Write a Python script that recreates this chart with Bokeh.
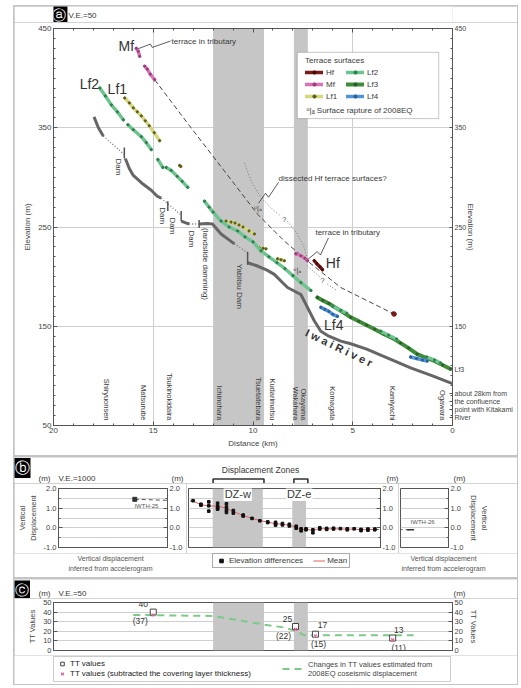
import numpy as np
from bokeh.plotting import figure
from bokeh.models import (Range1d, LinearAxis, FixedTicker, BoxAnnotation, Label, Legend,
                          LegendItem, PrintfTickFormatter)
from bokeh.layouts import column, row
from bokeh.core.properties import value
from bokeh.embed import file_html
from bokeh.resources import INLINE

FONT = "Liberation Sans"
INK = "#3a3a3a"
BAND = "#c6c6c6"
GRID = "#cfcfcf"

# ---------------- data: displacement zones (km) ----------------
dz_w = (12.0, 9.45)
dz_e = (7.95, 7.25)

# ---------------- data: panel a (distance km, elevation m) ----------------
river_xs = [[17.97, 17.75, 17.5],
            [16.4, 16.2, 16.0, 15.5, 15.1, 14.8, 14.6],
            [13.6, 13.4, 13.2],
            [12.7, 12.3, 12.03, 11.6, 11.27, 10.93],
            [10.27, 9.77, 9.3, 8.93, 8.6, 8.27, 7.6, 7.27, 6.93, 6.6, 6.2, 5.6, 5.1, 4.3, 3.6, 2.8, 2.1, 1.0, 0.0]]
river_ys = [[361, 350, 341.5],
            [319, 309, 302, 293, 287, 281, 279],
            [256, 254.5, 253],
            [253, 253.5, 253, 243, 238, 233],
            [214, 210.7, 206.5, 202.3, 195.6, 189, 182, 169, 155.5, 145, 140, 135, 132.4, 127, 121, 114, 108, 100, 92.2]]
river_dot_xs = [[17.5, 16.45], [14.6, 13.6], [13.2, 12.7], [10.93, 10.27]]
river_dot_ys = [[341.5, 323], [279, 262], [253, 253], [233, 224]]

dam_x = [16.45, 14.27, 13.6, 12.7, 10.27]
dam_top = [330, 276, 266, 257, 225]
dam_bot = [319, 266, 256, 249, 212]
dam_names = ["Dam", "Dam", "Dam", "Dam", "(landslide damming)", "Yabitsu Dam"]
dam_name_x = [16.75, 14.55, 14.05, 13.1, 12.38, 10.7]
dam_name_y = [319, 270, 259.5, 246.5, 249, 213]

mf_xs = [[15.85, 15.75, 15.68], [15.43, 15.3, 15.15, 14.93], [7.85, 7.6, 7.4, 7.27]]
mf_ys = [[430, 427, 422], [412, 409, 404, 398.4], [223, 221, 218.5, 216]]
hf_xs = [[6.93, 6.8, 6.65, 6.52], [2.98, 2.9]]
hf_ys = [[216, 213, 210, 207], [163, 162]]
lf1_xs = [[16.43, 16.2, 16.0, 15.8, 15.6, 15.4, 15.2, 14.95, 14.68], [13.68, 13.62],
          [11.35, 11.1, 10.9, 10.7, 10.5, 10.2, 9.93], [9.68, 9.5, 9.35], [8.77, 8.6, 8.43]]
lf1_ys = [[380, 375, 370, 366, 362, 357, 352, 345, 337], [312, 311],
          [256, 255, 254, 252, 250, 246, 243], [229, 228.5, 228], [218, 217, 216]]
lf2_xs = [[17.68, 17.4, 17.1, 16.8, 16.5], [16.27, 16.0, 15.6, 15.35, 15.1], [14.77, 14.52],
          [14.35, 14.1, 13.8, 13.55, 13.27],
          [12.43, 12.2, 12.0, 11.6, 11.2, 10.77, 10.4, 10.0, 9.6, 9.2, 8.8, 8.4, 8.0, 7.6, 7.1],
          [6.0, 5.6, 5.3], [3.6, 3.2, 2.8], [1.3, 0.9, 0.6]]
lf2_ys = [[390, 382, 373, 366, 358], [353, 348, 341, 335, 328], [318, 310],
          [310, 307, 301, 296, 290],
          [276, 270, 265, 256, 250, 246, 240, 235, 226, 220, 214, 208, 201, 194, 186],
          [170, 166, 163], [145, 141, 137], [119, 116, 113]]
lf3_xs = [[6.77, 6.5, 6.2, 5.8, 5.4, 5.1, 4.7, 4.3, 3.9, 3.43, 3.0, 2.6, 2.2, 1.77, 1.3, 0.9, 0.5, 0.1]]
lf3_ys = [[179, 176, 173, 168, 163, 159, 155, 151, 147, 142, 138, 133, 128, 122, 118, 115, 111, 107]]
lf4_xs = [[6.6, 6.4, 6.2, 6.0, 5.77], [2.1, 1.8, 1.5, 1.27]]
lf4_ys = [[169, 167, 165, 162, 160], [119, 117.5, 116, 115]]

mfhf_x = [14.93, 13.1, 11.43, 9.77, 8.43, 7.27, 5.6, 2.93]
mfhf_y = [398.4, 349.8, 306.3, 262.8, 235.9, 215.8, 189, 162.3]
dot_xs = [[10.43, 10.1, 9.6, 8.93, 8.6], [8.27, 7.77, 7.43, 7.27], [7.27, 6.6], [6.27, 5.77]]
dot_ys = [[314.6, 296.4, 279.5, 266.1, 261], [255.8, 242.6, 229.2, 217.5], [210.8, 199], [192.4, 185.7]]
q_x = [8.43, 6.52]
q_y = [257.8, 195.8]
lead_xs = [[15.8, 15.14, 15.05, 14.13], [9.72, 9.37, 9.22, 8.72], [7.28, 6.78, 6.62, 6.22]]
lead_ys = [[429.3, 434.3, 430.9, 437.4], [274, 284, 280, 295], [216.8, 225.2, 221.8, 238.9]]
rupture_x = [9.75, 7.78]
rupture_y = [268, 206]

places = ["Shiryuonsen", "Matsurube", "Tsukinokidaira", "Ichinohara", "Tsuetatebara",
          "Kudarimatsu", "Wakahara", "Okayama", "Komagata", "Kamiyachi", "Ogawara"]
place_km = [17.35, 15.47, 14.2, 11.7, 9.7, 9.0, 7.85, 7.45, 6.0, 3.0, 0.5]

# right-margin notes of panel a (elevation m -> text)
right_notes = {106: "Lf3", 82: "about 28km from", 74: "the confluence",
               66: "point with Kitakami", 58: "River"}

# ---------------- data: panel b (vertical displacement m) ----------------
ed_x = [13.0, 12.6, 12.6, 12.2, 12.2, 12.2, 11.75, 11.75, 11.75, 11.75, 11.3, 11.3, 11.3, 11.3,
        10.95, 10.95, 10.45, 10.45, 10.0, 9.6, 9.2, 9.2, 8.8, 8.8, 8.8, 8.45, 8.45, 8.1, 8.1,
        7.75, 7.75, 7.5, 7.5, 7.25, 7.25, 6.9, 6.9, 6.55, 6.55, 6.2, 6.2, 5.85, 5.85, 5.5,
        5.15, 5.15, 4.8, 4.45, 4.45, 4.1, 4.1, 3.75, 3.75]
ed_y = [1.38, 1.2, 1.15, 1.32, 1.12, 0.85, 1.25, 1.1, 1.0, 0.95, 1.22, 1.05, 0.9, 0.78,
        0.88, 0.75, 0.65, 0.6, 0.48, 0.36, 0.3, 0.27, 0.28, 0.2, 0.14, 0.22, 0.15, 0.18, 0.1,
        0.08, -0.02, -0.05, -0.15, -0.05, -0.1, -0.1, -0.25, 0.0, -0.06, -0.03, -0.08, -0.02, -0.06, -0.04,
        -0.05, -0.1, -0.05, -0.08, -0.14, -0.06, -0.12, -0.1, -0.06]
mean_x = [13.0, 12.6, 12.2, 11.75, 11.3, 10.95, 10.45, 10.0, 9.6, 9.2, 8.8, 8.45, 8.1, 7.75,
          7.5, 7.25, 6.9, 6.55, 6.2, 5.85, 5.5, 5.15, 4.8, 4.45, 4.1, 3.75]
mean_y = [1.36, 1.17, 1.12, 1.1, 1.0, 0.82, 0.63, 0.48, 0.37, 0.29, 0.21, 0.18, 0.13, 0.04,
          -0.08, -0.08, -0.12, -0.04, -0.05, -0.05, -0.05, -0.07, -0.06, -0.1, -0.09, -0.08]
iwth25 = (16.0, 1.45)
iwth26 = (2.1, -0.1)

# ---------------- data: panel c (TT values m) ----------------
tt_km = [15.0, 7.87, 6.87, 3.0]
tt_val = [40, 25, 17, 13]
tt_sub = [37, 22, 15, 11]
chg_km = [16.0, 12.0, 9.45, 8.45, 7.95, 7.45, 1.95]
chg_val = [37, 36, 27, 24, 21, 16, 16]

# ---------------- layout constants ----------------
W = 503
PX_KM = 399 / 20.0            # frame pixels per km
XL = 20 + 39 / PX_KM          # km at the canvas left edge
XR = 20 - (W - 39) / PX_KM    # km at the canvas right edge


def km(px):                   # page x pixel -> km (for text placement)
    return 20 - (px - 53) / PX_KM


# ---------------- helpers ----------------
def lab(p, x, y, text, size="8px", align="left", baseline="middle", angle=0.0,
        color=INK, style="normal", font=FONT, **kw):
    l = Label(x=x, y=y, text=text, text_font=font, text_font_size=size, text_align=align,
              text_baseline=baseline, angle=angle, text_color=color, text_font_style=style, **kw)
    p.add_layout(l)
    return l


def style_axis(ax, fs="8px"):
    ax.axis_line_color = "#555"
    ax.major_tick_line_color = "#555"
    ax.minor_tick_line_color = "#555"
    ax.major_tick_in = 4
    ax.major_tick_out = 0
    ax.minor_tick_in = 2
    ax.minor_tick_out = 0
    ax.major_label_text_font = FONT
    ax.major_label_text_font_size = fs
    ax.major_label_text_color = "#444"
    ax.major_label_standoff = 2
    ax.axis_label_text_font = FONT
    ax.axis_label_text_font_size = fs
    ax.axis_label_text_font_style = "normal"
    ax.axis_label_text_color = "#444"
    ax.axis_label_standoff = 3


def base_fig(**kw):
    return figure(output_backend="svg", toolbar_location=None, background_fill_color="white",
                  border_fill_color="white", outline_line_color="#555", **kw)


def strip(h):
    s = figure(width=W, height=h, x_range=Range1d(XL, XR), y_range=Range1d(0, h),
               min_border=0, x_axis_location=None, y_axis_location=None,
               outline_line_color=None, output_backend="svg", toolbar_location=None,
               background_fill_color="white", border_fill_color="white")
    s.grid.visible = False
    return s


def bands(p, top_e=None):
    p.add_layout(BoxAnnotation(left=dz_w[0], right=dz_w[1], fill_color=BAND, fill_alpha=1,
                               line_alpha=0, level="underlay"))
    p.add_layout(BoxAnnotation(left=dz_e[0], right=dz_e[1], top=top_e, fill_color=BAND,
                               fill_alpha=1, line_alpha=0, level="underlay"))


def flat(xss):
    return [v for s in xss for v in s]


def badge(p, x, y, ch, size):
    lab(p, x, y, ch, size=size, align="center", color="white", font="DejaVu Sans",
        background_fill_color="black", padding=1)


# ================= panel a =================
ha = strip(16)
badge(ha, km(21.5), 8, "ⓐ", "14px")
lab(ha, km(33), 7, "V.E.=50", size="8px")

pa = base_fig(width=W, height=433, x_range=Range1d(20, 0), y_range=Range1d(50, 450),
              min_border_left=39, min_border_right=65, min_border_top=6, min_border_bottom=30)
pa.xaxis.ticker = FixedTicker(ticks=[0, 5, 10, 15, 20], minor_ticks=list(range(0, 21)))
pa.xaxis.axis_label = "Distance (km)"
pa.yaxis.ticker = FixedTicker(ticks=[50, 150, 250, 350, 450], minor_ticks=list(range(50, 451, 10)))
pa.yaxis.axis_label = "Elevation (m)"
style_axis(pa.xaxis[0])
style_axis(pa.yaxis[0])
ra = LinearAxis(ticker=FixedTicker(ticks=[150, 250, 350, 450] + list(right_notes.keys()),
                                   minor_ticks=list(range(50, 451, 10))),
                axis_label="Elevation (m)", major_label_overrides=right_notes)
style_axis(ra, fs="7px")
ra.axis_label_text_font_size = "8px"
ra.major_tick_in = 3
ra.axis_label_standoff = -50
pa.add_layout(ra, "right")
ta = LinearAxis(ticker=FixedTicker(ticks=[0, 5, 10, 15, 20], minor_ticks=list(range(0, 21))),
                major_label_overrides={t: "" for t in [0, 5, 10, 15, 20]})
style_axis(ta)
pa.add_layout(ta, "above")
pa.xgrid.grid_line_color = GRID
pa.ygrid.grid_line_color = GRID
bands(pa)

# river
pa.multi_line(river_dot_xs, river_dot_ys, line_color="#777", line_width=1.3, line_dash="1 2")
pa.multi_line(river_xs, river_ys, line_color="#666", line_width=3, line_join="round")
pa.segment(x0=dam_x, y0=dam_bot, x1=dam_x, y1=dam_top, line_color="#555", line_width=1.5)
pa.text(x=dam_name_x, y=dam_name_y, text=dam_names, angle=-np.pi / 2, text_align="left",
        text_baseline="middle", text_font=value(FONT), text_font_size="8px", text_color=INK)

# guide lines
pa.line(mfhf_x, mfhf_y, line_color="#444", line_width=1, line_dash="5 3")
pa.multi_line(dot_xs, dot_ys, line_color="#777", line_width=1, line_dash="1 2")
pa.multi_line(lead_xs, lead_ys, line_color="#333", line_width=0.8)
pa.text(x=q_x, y=q_y, text=["?", "?"], text_align="center", text_baseline="middle",
        text_font=value(FONT), text_font_size="8px", text_color="#555")
pa.text(x=rupture_x, y=rupture_y, text=["ᵘ|ₐ", "ᵘ|ₐ"], text_align="center", text_baseline="middle",
        text_font=value("DejaVu Sans"), text_font_size="7px", text_color="#333")

# terraces
terr = [("Hf", hf_xs, hf_ys, "#7a1a1a", "#4a0a0a"),
        ("Mf", mf_xs, mf_ys, "#d873b5", "#9a3d7d"),
        ("Lf1", lf1_xs, lf1_ys, "#d4d77c", "#5a5a20"),
        ("Lf2", lf2_xs, lf2_ys, "#6cc48e", "#2f7d4c"),
        ("Lf3", lf3_xs, lf3_ys, "#3f8c3a", "#2a5e26"),
        ("Lf4", lf4_xs, lf4_ys, "#4f95d8", "#2d5f9a")]
rend = {}
for name, xs, ys, c, dc in terr:
    w = 4 if name == "Lf3" else 3.4
    r1 = pa.multi_line(xs, ys, line_color=c, line_width=w, line_cap="round", line_join="round")
    r2 = pa.scatter(flat(xs), flat(ys), size=2.2, color=dc, marker="circle")
    rend[name] = (r1, r2)
for r in rend["Lf2"]:
    pa.renderers.remove(r)
    pa.renderers.append(r)
pa.scatter([mfhf_x[-1]], [mfhf_y[-1]], size=4.5, color="#7a1a1a")

# place names
pa.text(x=place_km, y=[55] * len(place_km), text=places, angle=-np.pi / 2, text_align="right",
        text_baseline="middle", text_font=value(FONT), text_font_size="7.5px", text_color=INK)

# legend box
pa.add_layout(BoxAnnotation(left=7.78, right=0.69, top=426, bottom=359.2, fill_color="white",
                            fill_alpha=1, line_color="#444", line_width=1))
leg = Legend(items=[LegendItem(label=n, renderers=list(rend[n])) for n in ["Hf", "Mf", "Lf1", "Lf2", "Lf3", "Lf4"]],
             ncols=2, location=(250, 321), title="Terrace surfaces",
             title_text_font=FONT, title_text_font_size="8px", title_text_font_style="normal",
             title_text_color=INK, title_standoff=1,
             label_text_font=FONT, label_text_font_size="8px", label_text_color=INK,
             label_height=12, glyph_height=8, glyph_width=18, label_standoff=3, spacing=0,
             padding=2, margin=0, border_line_alpha=0, background_fill_alpha=0)
pa.add_layout(leg)
lab(pa, km(306), 367.8, "ᵘ|ₐ Surface rapture of 2008EQ", size="8px")

lab(pa, 16.35, 432, "Mf", size="14px", align="center", color="#333")
lab(pa, 14.08, 437.4, "terrace in tributary", size="8px")
lab(pa, 18.2, 394.5, "Lf2", size="14px", align="center", color="#333")
lab(pa, 16.8, 389, "Lf1", size="14px", align="center", color="#333")
lab(pa, 8.72, 299, "dissected Hf terrace surfaces?", size="8px")
lab(pa, 6.87, 244, "terrace in tributary", size="8px")
lab(pa, 6.0, 214, "Hf", size="14px", align="center", color="#333")
lab(pa, 5.95, 151, "Lf4", size="14px", align="center", color="#333")
lab(pa, 5.55, 127, "I w a i   R i v e r", size="11px", align="center", angle=-0.45,
    color="#333", style="bold")

# ================= panel b =================
hb = strip(26)
badge(hb, km(21.5), 15.5, "ⓑ", "15px")
lab(hb, km(44), 5, "(m)", align="center")
lab(hb, km(58), 5, "V.E.=1000")
lab(hb, km(177), 5, "(m)", align="center")
lab(hb, km(392), 5, "(m)", align="center")
lab(hb, km(459), 5, "(m)", align="center")
lab(hb, (dz_w[0] + dz_e[1]) / 2, 14, "Displacement Zones", size="8.5px", align="center")
hb.multi_line([[z[0], z[0], z[1], z[1]] for z in (dz_w, dz_e)], [[0, 4.5, 4.5, 0]] * 2,
              line_color="#333", line_width=1.6)

yt_b = FixedTicker(ticks=[-1, 0, 1, 2], minor_ticks=[-0.5, 0.5, 1.5])


def style_b(p):
    for ax in p.yaxis:
        ax.ticker = yt_b
        ax.formatter = PrintfTickFormatter(format="%.1f")
        style_axis(ax, fs="7.5px")
    p.ygrid.grid_line_color = GRID
    p.ygrid.minor_grid_line_color = GRID
    p.xgrid.visible = False


BH = dict(height=70, min_border_top=5, min_border_bottom=6, x_axis_location=None)
b1 = base_fig(width=172, x_range=Range1d(20, 20 - 114 / PX_KM), y_range=Range1d(-1, 2),
              y_axis_location="left", min_border_left=39, min_border_right=19, **BH)
b1.yaxis.axis_label = "Vertical\nDisplacement"
b1.add_layout(LinearAxis(), "right")
style_b(b1)

b2 = base_fig(width=212, x_range=Range1d(km(188), km(383)), y_range=Range1d(-1, 2),
              y_axis_location="right", min_border_left=2, min_border_right=15, **BH)
style_b(b2)
bands(b2, top_e=1.5)

b3 = base_fig(width=119, x_range=Range1d(km(400), km(448)), y_range=Range1d(-1, 2),
              y_axis_location="right", min_border_left=2, min_border_right=69, **BH)
b3.yaxis.axis_label = "Vertical\nDisplacement"
style_b(b3)

for p in (b1, b2):
    p.line([iwth25[0], mean_x[0]], [iwth25[1], mean_y[0]], line_color="#555", line_dash="4 3", line_width=1)
for p in (b2, b3):
    p.line([mean_x[-1], iwth26[0]], [mean_y[-1], iwth26[1]], line_color="#555", line_dash="4 3", line_width=1)
b1.scatter([iwth25[0]], [iwth25[1]], marker="square", size=4, color="#333")
b3.scatter([iwth26[0]], [iwth26[1]], marker="dash", size=7, line_width=1.5, color="#333")
lab(b1, 15.39, 1.12, "IWTH-25", size="6px", align="center", color="#555")
lab(b3, 1.5, 0.3, "IWTH-26", size="6px", align="center", color="#555")

rm = b2.line(mean_x, mean_y, line_color="#e06060", line_width=1)
rd = b2.scatter(ed_x, ed_y, marker="square", size=2.6, color="#111")
lab(b2, (dz_w[0] + dz_w[1]) / 2, 1.72, "DZ-w", size="11px", align="center",
    background_fill_color="white", padding=1)
lab(b2, (dz_e[0] + dz_e[1]) / 2, 1.72, "DZ-e", size="11px", align="center",
    background_fill_color="white", padding=1)

fb = strip(24)
for xc in (17.14, 0.45):
    lab(fb, xc, 19, "Vertical displacement", size="7px", align="center", color="#555")
    lab(fb, xc, 9, "inferred from accelerogram", size="7px", align="center", color="#555")
# legend keys (hidden copies of the panel's glyphs)
pd = fb.scatter(ed_x[:1], ed_y[:1], marker="square", size=2.6, color="#111", visible=False)
pm = fb.line(mean_x[:2], mean_y[:2], line_color="#e06060", line_width=1, visible=False)
legb = Legend(items=[LegendItem(label="Elevation differences", renderers=[pd]),
                     LegendItem(label="Mean", renderers=[pm])],
              orientation="horizontal", location=(198, 9),
              label_text_font=FONT, label_text_font_size="8px", label_text_color=INK,
              label_height=9, glyph_height=9, glyph_width=12, label_standoff=2, spacing=10,
              padding=2, margin=0, border_line_color="#555", background_fill_color="white")
fb.add_layout(legb)

# ================= panel c =================
hc = strip(19)
badge(hc, km(21.5), 9, "ⓒ", "14px")
lab(hc, km(44), 5, "(m)", align="center")
lab(hc, km(58), 5, "V.E.=50")
lab(hc, km(459), 5, "(m)", align="center")

pc = base_fig(width=W, height=57, x_range=Range1d(20, 0), y_range=Range1d(0, 50),
              x_axis_location=None, min_border_left=39, min_border_right=65,
              min_border_top=4, min_border_bottom=5)
pc.yaxis.ticker = FixedTicker(ticks=[0, 10, 20, 30, 40, 50])
pc.yaxis.axis_label = "TT Values"
style_axis(pc.yaxis[0], fs="7.5px")
rc = LinearAxis(ticker=FixedTicker(ticks=[0, 10, 20, 30, 40, 50]), axis_label="TT Values")
style_axis(rc, fs="7.5px")
pc.add_layout(rc, "right")
pc.ygrid.grid_line_color = GRID
pc.xgrid.visible = False
bands(pc)
pc.line(chg_km, chg_val, line_color="#7dc98a", line_width=2, line_dash="7 5")
pc.scatter(tt_km, tt_val, marker="square", size=6, fill_color="white", line_color="#444")
pc.scatter(tt_km, tt_sub, marker="x", size=4, line_color="#e0609a", line_width=1.2)
offs = [(-10, 8, -13, -6), (-8, 8, -12, -7), (7, 9, 3, -8), (6, 8, 6, -8)]
for k, v, s, (dx1, dy1, dx2, dy2) in zip(tt_km, tt_val, tt_sub, offs):
    lab(pc, k, v, str(v), size="8.5px", align="center", x_offset=dx1, y_offset=dy1, color="#333")
    lab(pc, k, s, "(%d)" % s, size="8.5px", align="center", x_offset=dx2, y_offset=dy2, color="#333")

fc = strip(29)
fc.add_layout(BoxAnnotation(left=20, right=0.1, bottom=3, top=28, fill_color="white",
                            fill_alpha=1, line_color="#555", line_width=1))
psq = fc.scatter(tt_km[:1], tt_val[:1], marker="square", size=6, fill_color="white",
                 line_color="#444", visible=False)
pxx = fc.scatter(tt_km[:1], tt_sub[:1], marker="x", size=4, line_color="#e0609a",
                 line_width=1.2, visible=False)
pch = fc.line(chg_km[:2], chg_val[:2], line_color="#7dc98a", line_width=2, line_dash="7 5",
              visible=False)
legc1 = Legend(items=[LegendItem(label="TT values", renderers=[psq]),
                      LegendItem(label="TT values (subtracted the covering layer thickness)", renderers=[pxx])],
               location=(41, 4), label_text_font=FONT, label_text_font_size="8px",
               label_text_color="#222", label_height=10, glyph_height=9, glyph_width=10,
               label_standoff=3, spacing=0, padding=2, margin=0,
               border_line_alpha=0, background_fill_alpha=0)
legc2 = Legend(items=[LegendItem(label="Changes in TT values estimated from\n2008EQ coseismic displacement",
                                 renderers=[pch])],
               location=(266, 4), label_text_font=FONT, label_text_font_size="7.5px",
               label_text_color="#444", label_height=19, glyph_height=9, glyph_width=20,
               label_standoff=6, padding=2, margin=0, border_line_alpha=0,
               background_fill_alpha=0)
fc.add_layout(legc1)
fc.add_layout(legc2)

layout = column(column(ha, pa), column(hb, row(b1, b2, b3), fb),
                column(row(hc), row(pc), row(fc)),
                spacing=2,
                styles={"background-color": "#c4c4c4", "padding": "1px",
                        "margin-left": "13px", "margin-top": "5px"})
open("out.html", "w").write(file_html(layout, INLINE))
